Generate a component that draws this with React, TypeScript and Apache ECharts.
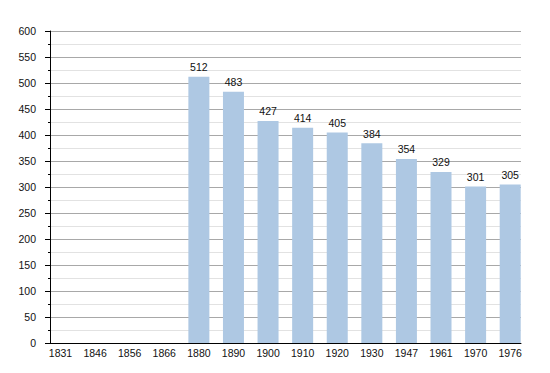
import React, { useEffect, useRef } from "react";
import * as echarts from "echarts";

const years = ["1831", "1846", "1856", "1866", "1880", "1890", "1900", "1910", "1920", "1930", "1947", "1961", "1970", "1976"];
const population = [null, null, null, null, 512, 483, 427, 414, 405, 384, 354, 329, 301, 305];
const yMin = 0;
const yMax = 600;
const yStep = 50;

export default function App() {
  const ref = useRef<HTMLDivElement>(null);
  useEffect(() => {
    if (!ref.current) return;
    const chart = echarts.init(ref.current, null, { renderer: "svg" });
    const font = "Liberation Sans, Arial, sans-serif";
    chart.setOption({
      animation: false,
      grid: [
        { left: 50, right: 29, top: 31, bottom: 30 },
        { left: 60.5, right: 39.8, top: 31, bottom: 30 },
      ],
      xAxis: [
        {
          type: "category",
          gridIndex: 0,
          data: years,
          axisLine: { lineStyle: { color: "#000", width: 1 } },
          axisTick: { show: false },
          axisLabel: { show: false },
          splitLine: { show: false },
        },
        {
          type: "category",
          gridIndex: 1,
          data: years,
          boundaryGap: false,
          axisLine: { show: false },
          axisTick: { show: false },
          axisLabel: { color: "#111", fontSize: 10.5, fontFamily: font, margin: 4, interval: 0 },
          splitLine: { show: false },
        },
      ],
      yAxis: [
        {
          type: "value",
          gridIndex: 0,
          min: yMin,
          max: yMax,
          interval: yStep,
          axisLine: { show: true, lineStyle: { color: "#000", width: 1 } },
          axisTick: { show: true, length: 5, lineStyle: { color: "#000" } },
          minorTick: { show: true, splitNumber: 2, length: 2, lineStyle: { color: "#000" } },
          axisLabel: { color: "#111", fontSize: 10.5, fontFamily: font, margin: 14 },
          splitLine: { show: true, lineStyle: { color: "#a8a8a8", width: 1 } },
          minorSplitLine: { show: true, lineStyle: { color: "#e2e2e2", width: 1 } },
        },
        {
          type: "value",
          gridIndex: 1,
          min: yMin,
          max: yMax,
          interval: yStep,
          show: false,
          splitLine: { show: false },
        },
      ],
      series: [
        {
          type: "bar",
          xAxisIndex: 1,
          yAxisIndex: 1,
          data: population,
          barWidth: 21,
          itemStyle: { color: "#aec8e3" },
          label: {
            show: true,
            position: "top",
            distance: 4,
            color: "#111",
            fontSize: 10.5,
            fontFamily: font,
          },
        },
      ],
    });
    return () => chart.dispose();
  }, []);
  return <div ref={ref} style={{ width: 550, height: 373, position: "absolute", left: 0, top: 0 }} />;
}
